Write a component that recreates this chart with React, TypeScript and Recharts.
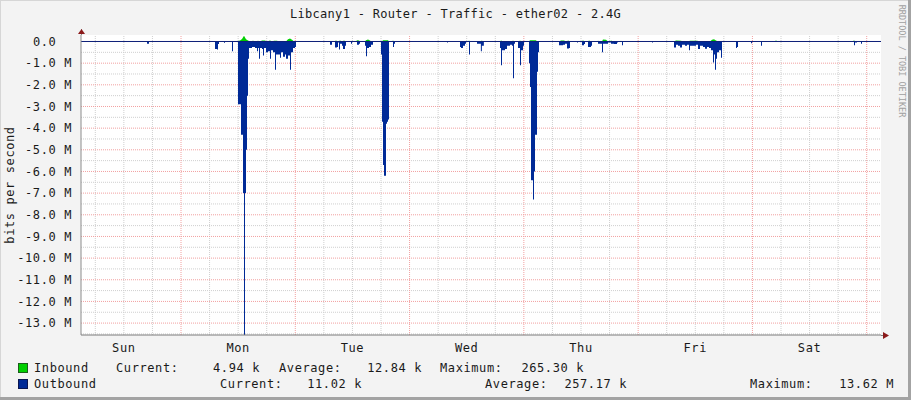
import { AreaChart, Area, XAxis, YAxis, CartesianGrid, ReferenceLine } from "recharts";

const FONT = '"DejaVu Sans Mono", monospace';

// hours counted from Sunday 00:00, values in Mbit/s (outbound drawn below zero)
const outboundSun: [number, number][] = [[16.44, 0], [16.86, -0.1], [17.28, 0]];

const outboundMon: [number, number][] = [
  [30.72, 0], [31.14, -0.35], [31.56, -0.37], [31.77, -0.12], [31.98, 0],
  [32.82, 0], [33.03, -0.06], [33.24, 0],
  [34.5, 0], [34.71, -0.45], [34.92, 0],
  [35.76, 0], [35.97, -2.9], [36.39, -2.9], [36.6, -4.3], [36.81, -4.3], [37.02, -7.0],
  [37.23, -13.62], [37.44, -7.0], [37.65, -5.0], [37.86, -2.5], [38.07, -0.8], [38.28, -0.3],
  [38.91, -0.25], [39.54, -0.3], [39.96, -0.45], [40.17, -0.3], [40.38, -0.8], [40.59, -0.3],
  [41.01, -0.35], [41.22, -0.65], [41.43, -0.3], [41.85, -0.5], [42.27, -0.45], [42.69, -0.8],
  [42.9, -0.4], [43.32, -0.5], [43.74, -1.3], [43.95, -0.6], [44.37, -0.6], [44.79, -0.75],
  [45.0, -0.5], [45.42, -0.7], [45.84, -0.6], [46.05, -0.8], [46.47, -0.65], [46.89, -1.3],
  [47.1, -0.5], [47.52, -0.3], [47.94, -0.25], [48.15, 0],
];

const outboundTue: [number, number][] = [
  [54.87, 0], [55.29, -0.15], [55.71, 0],
  [56.13, 0], [56.34, -0.28], [56.76, -0.25], [56.97, -0.05], [57.18, -0.37], [57.39, -0.1],
  [57.81, -0.2], [58.02, -0.35], [58.44, -0.2], [58.65, 0],
  [59.49, 0], [59.7, -0.1], [59.91, 0],
  [60.54, 0], [60.96, -0.15], [61.38, -0.1], [61.59, 0],
  [62.43, 0], [62.64, -0.2], [62.85, -0.68], [63.06, -0.3], [63.48, -0.25], [63.9, -0.15], [64.32, 0],
  [65.79, 0], [66.0, -0.6], [66.21, -3.7], [66.42, -5.7], [66.63, -6.2], [66.84, -6.2],
  [67.05, -3.8], [67.26, -3.7], [67.47, -3.6], [67.68, 0],
  [68.31, 0], [68.52, -0.25], [68.73, -0.1], [68.94, 0],
];

const outboundWed: [number, number][] = [
  [79.65, 0], [79.86, -0.05], [80.07, 0],
  [82.38, 0], [82.59, -0.25], [82.8, -0.3], [83.22, -0.2], [83.64, -0.1], [83.85, 0],
  [84.27, 0], [84.48, -0.6], [84.69, 0],
  [85.95, 0], [86.16, -0.1], [86.97, -0.45], [87.18, -0.2], [87.6, 0],
  [90.78, 0], [90.99, -0.3], [91.2, -1.1], [91.41, -0.4], [92.04, -0.35], [92.46, -0.2],
  [93.09, -0.15], [93.51, -0.2], [93.72, -1.7], [93.93, -0.1], [94.14, 0],
  [94.56, 0], [94.77, -0.3], [95.19, -1.1], [95.4, -0.4], [95.82, -0.2], [96.03, 0],
  [96.87, 0], [97.08, -1.0], [97.29, -2.1], [97.5, -6.4], [97.71, -6.4], [97.92, -7.3],
  [98.13, -6.0], [98.34, -4.3], [98.55, -4.3], [98.76, -1.4], [98.97, -0.5], [99.18, 0],
];

const outboundThu: [number, number][] = [
  [103.17, 0], [103.38, -0.17], [104.22, -0.15], [104.64, -0.1], [105.06, -0.32], [105.48, -0.3], [105.69, 0],
  [106.95, 0], [107.16, -0.05], [107.37, 0],
  [108.0, 0], [108.21, -0.17], [108.63, -0.12], [108.84, 0],
  [109.26, 0], [109.47, -0.25], [110.1, -0.2], [110.31, 0],
  [111.36, 0], [111.57, -0.1], [111.99, -0.1], [112.41, -0.5], [112.62, -0.1], [113.04, -0.1],
  [113.67, -0.05], [114.3, -0.1], [114.93, -0.12], [115.56, -0.05], [115.77, 0],
  [116.4, 0], [116.61, -0.17], [116.82, 0],
  [122.7, 0], [122.91, -0.05], [123.12, 0],
];

const outboundFri: [number, number][] = [
  [127.32, 0], [127.53, -0.28], [127.95, -0.15], [128.37, -0.2], [128.79, -0.28], [129.21, -0.15],
  [129.84, -0.2], [130.26, -0.15], [130.68, -0.4], [130.89, -0.2], [131.52, -0.2], [132.15, -0.15],
  [132.57, -0.35], [132.99, -0.2], [133.62, -0.25], [134.04, -0.33], [134.46, -0.25], [134.88, -0.3],
  [135.3, -0.4], [135.51, -0.4], [135.72, -0.97], [135.93, -0.6], [136.14, -1.3], [136.35, -0.8],
  [136.56, -0.5], [136.98, -0.4], [137.19, -0.4], [137.4, -0.75], [137.61, 0],
];

const outboundSat: [number, number][] = [
  [140.34, 0], [140.55, -0.3], [140.76, -0.25], [140.97, 0],
  [143.49, 0], [143.7, -0.08], [143.91, 0],
  [145.59, 0], [145.8, -0.2], [146.01, 0],
  [165.12, 0], [165.33, -0.17], [165.54, -0.05], [165.96, 0],
  [166.59, 0], [166.8, -0.1], [167.01, 0],
];

const inbound: [number, number][] = [
  [35.55, 0], [36.39, 0.05], [36.81, 0.12], [37.23, 0.265], [37.65, 0.1], [38.07, 0.05], [38.49, 0],
  [39.12, 0.04], [39.75, 0], [40.17, 0.04], [40.59, 0], [41.01, 0.05], [41.64, 0.05], [42.06, 0],
  [42.69, 0.05], [43.11, 0], [43.53, 0.04], [44.16, 0.04], [44.58, 0],
  [46.05, 0], [46.47, 0.1], [46.89, 0.14], [47.31, 0.08], [47.73, 0],
  [56.34, 0], [56.55, 0.06], [56.76, 0], [57.18, 0], [57.39, 0.06], [57.6, 0],
  [58.02, 0], [58.23, 0.06], [58.44, 0], [60.75, 0], [60.96, 0.06], [61.38, 0.05], [61.59, 0],
  [62.64, 0], [62.85, 0.06], [63.27, 0.09], [63.69, 0.05], [63.9, 0],
  [66.21, 0], [66.42, 0.06], [67.47, 0.06], [67.68, 0], [68.31, 0], [68.52, 0.05], [68.73, 0],
  [84.27, 0], [84.48, 0.05], [84.69, 0], [86.97, 0], [87.18, 0.05], [87.39, 0],
  [90.99, 0], [91.2, 0.05], [91.62, 0], [93.51, 0], [93.72, 0.05], [93.93, 0],
  [94.98, 0], [95.19, 0.05], [95.4, 0], [97.08, 0], [97.29, 0.06], [98.55, 0.06], [98.76, 0],
  [103.38, 0], [103.8, 0.05], [104.43, 0.05], [104.85, 0], [105.06, 0], [105.27, 0.05], [105.69, 0],
  [108.0, 0], [108.42, 0.05], [108.84, 0], [109.47, 0], [109.68, 0.05], [110.1, 0],
  [111.36, 0], [111.57, 0.04], [111.99, 0], [112.41, 0], [112.62, 0.09], [113.25, 0.08], [113.67, 0],
  [114.09, 0], [114.3, 0.05], [114.72, 0], [116.19, 0], [116.4, 0.04], [116.61, 0],
  [127.53, 0], [127.95, 0.05], [129.0, 0.04], [129.42, 0],
  [130.47, 0], [130.89, 0.04], [132.36, 0.04], [133.2, 0],
  [135.09, 0], [135.51, 0.08], [135.93, 0.1], [136.35, 0.05], [136.77, 0],
  [148.74, 0], [148.95, 0.06], [149.16, 0], [165.12, 0], [165.33, 0.06], [165.54, 0],
];

const days = ["Sun", "Mon", "Tue", "Wed", "Thu", "Fri", "Sat"];
const dayNoon = [12, 36, 60, 84, 108, 132, 156];
const yTicks = [0, -1, -2, -3, -4, -5, -6, -7, -8, -9, -10, -11, -12, -13];

const inboundStats = ["4.94 k", "12.84 k", "265.30 k"];
const outboundStats = ["11.02 k", "257.17 k", "13.62 M"];

type Row = { h: number; out: number | null; inb: number | null };
const byHour = new Map<number, Row>();
const put = (h: number, key: "out" | "inb", v: number) => {
  const r = byHour.get(h) ?? { h, out: null, inb: null };
  r[key] = v;
  byHour.set(h, r);
};
[outboundSun, outboundMon, outboundTue, outboundWed, outboundThu, outboundFri, outboundSat]
  .flat()
  .forEach(([h, v]) => put(h, "out", v));
inbound.forEach(([h, v]) => put(h, "inb", v));
const rows = [...byHour.values()].sort((a, b) => a.h - b.h);

const minorH: number[] = [];
for (let v = -0.5; v >= -13.5; v -= 1) minorH.push(v);
const majorH = yTicks.filter((v) => v !== 0);
const minorV: number[] = [];
const majorV: number[] = [];
for (let h = 6; h < 171; h += 6) (h % 24 === 0 ? majorV : minorV).push(h);

const DayTick = (props: any) => {
  const { x, y, payload } = props;
  const i = dayNoon.indexOf(payload.value);
  return (
    <text x={x} y={y} dy="0.71em" textAnchor="middle" fontFamily={FONT} fontSize={12}
      letterSpacing={0.6} fill="#1a1a1a">
      {days[i]}
    </text>
  );
};

const ValueTick = (props: any) => {
  const { x, y, payload } = props;
  const v = payload.value as number;
  const label = v === 0 ? "0.0" : `${v.toFixed(1)} M`;
  return (
    <text x={v === 0 ? x - 16.6 : x - 1} y={y} dy="0.355em" textAnchor="end" fontFamily={FONT}
      fontSize={12} letterSpacing={0.6} fill="#1a1a1a">
      {label}
    </text>
  );
};

const txt = { position: "absolute" as const, fontSize: 12, letterSpacing: 0.6, lineHeight: "14px", whiteSpace: "pre" as const, color: "#1a1a1a" };

export default function App() {
  return (
    <div style={{ position: "absolute", left: 0, top: 0, width: 911, height: 400, background: "#f3f3f3", fontFamily: FONT, overflow: "hidden" }}>
      <AreaChart width={911} height={400} data={rows} margin={{ top: 35, right: 30, bottom: 45, left: 0 }}>
        <CartesianGrid fill="#ffffff" horizontal={false} vertical={false} stroke="none" />
        {minorH.map((v) => (
          <ReferenceLine key={"mh" + v} y={v} stroke="#cfcfcf" strokeDasharray="1 1" zIndex={-90} />
        ))}
        {minorV.map((h) => (
          <ReferenceLine key={"mv" + h} x={h} stroke="#cfcfcf" strokeDasharray="1 1" zIndex={-90} />
        ))}
        {majorH.map((v) => (
          <ReferenceLine key={"Mh" + v} y={v} stroke="#f2a0a0" strokeDasharray="1 1" zIndex={-80} />
        ))}
        {majorV.map((h) => (
          <ReferenceLine key={"Mv" + h} x={h} stroke="#f2a0a0" strokeDasharray="1 1" zIndex={-80} />
        ))}
        <XAxis type="number" dataKey="h" domain={[3, 171]} allowDataOverflow ticks={dayNoon} interval={0}
          tick={<DayTick />} tickLine={false} axisLine={{ stroke: "#7a7a7a" }} height={20} />
        <YAxis type="number" domain={[-13.55, 0.3]} allowDataOverflow ticks={yTicks} interval={0}
          tick={<ValueTick />} tickLine={false} axisLine={{ stroke: "#8c8c8c" }} width={81} />
        <Area type="stepAfter" dataKey="out" baseValue={0} connectNulls stroke="none" fill="#002A97"
          fillOpacity={1} dot={false} activeDot={false} isAnimationActive={false} />
        <Area type="linear" dataKey="inb" baseValue={0} connectNulls stroke="none" fill="#00CF00"
          fillOpacity={1} dot={false} activeDot={false} isAnimationActive={false} />
        <ReferenceLine y={0} stroke="#0d1f78" strokeWidth={1} zIndex={450} />
      </AreaChart>

      <svg width={911} height={400} style={{ position: "absolute", left: 0, top: 0, pointerEvents: "none" }}>
        <line x1={81.5} y1={29} x2={81.5} y2={35} stroke="#8c8c8c" />
        <line x1={881} y1={335.5} x2={886} y2={335.5} stroke="#7a7a7a" />
        <polygon points="78,34 85,34 81.5,29" fill="#8b1a1a" />
        <polygon points="883,332 883,339 889,335.5" fill="#8b1a1a" />
        <rect x={0.5} y={0.5} width={910} height={399} fill="none" stroke="#d6d6d6" />
        <line x1={909.5} y1={0} x2={909.5} y2={400} stroke="#a3a3a3" strokeWidth={3} />
        <line x1={0} y1={398.5} x2={911} y2={398.5} stroke="#a3a3a3" strokeWidth={3} />
      </svg>

      <div style={{ ...txt, left: 0, width: 911, top: 7, textAlign: "center", letterSpacing: 0.3 }}>
        Libcany1 - Router - Traffic - ether02 - 2.4G
      </div>
      <div style={{ ...txt, left: 10, top: 185, transform: "translate(-50%,-50%) rotate(-90deg)" }}>
        bits per second
      </div>
      <div style={{ ...txt, left: 902, top: 61, fontSize: 8.5, letterSpacing: 0, color: "#a0a0a0", transform: "translate(-50%,-50%) rotate(90deg)" }}>
        RRDTOOL / TOBI OETIKER
      </div>

      <div style={{ position: "absolute", left: 18, top: 363, width: 8, height: 8, background: "#00CF00", border: "1px solid #1b5e1b" }} />
      <div style={{ ...txt, left: 34, top: 361 }}>Inbound</div>
      <div style={{ ...txt, left: 116, top: 361 }}>Current:</div>
      <div style={{ ...txt, right: 911 - 260, top: 361 }}>{inboundStats[0]}</div>
      <div style={{ ...txt, left: 279, top: 361 }}>Average:</div>
      <div style={{ ...txt, right: 911 - 422, top: 361 }}>{inboundStats[1]}</div>
      <div style={{ ...txt, left: 440, top: 361 }}>Maximum:</div>
      <div style={{ ...txt, right: 911 - 584, top: 361 }}>{inboundStats[2]}</div>

      <div style={{ position: "absolute", left: 18, top: 379, width: 8, height: 8, background: "#002A97", border: "1px solid #0a1550" }} />
      <div style={{ ...txt, left: 34, top: 377 }}>Outbound</div>
      <div style={{ ...txt, left: 220, top: 377 }}>Current:</div>
      <div style={{ ...txt, right: 911 - 362, top: 377 }}>{outboundStats[0]}</div>
      <div style={{ ...txt, left: 485, top: 377 }}>Average:</div>
      <div style={{ ...txt, right: 911 - 627, top: 377 }}>{outboundStats[1]}</div>
      <div style={{ ...txt, left: 750, top: 377 }}>Maximum:</div>
      <div style={{ ...txt, right: 911 - 894, top: 377 }}>{outboundStats[2]}</div>
    </div>
  );
}
